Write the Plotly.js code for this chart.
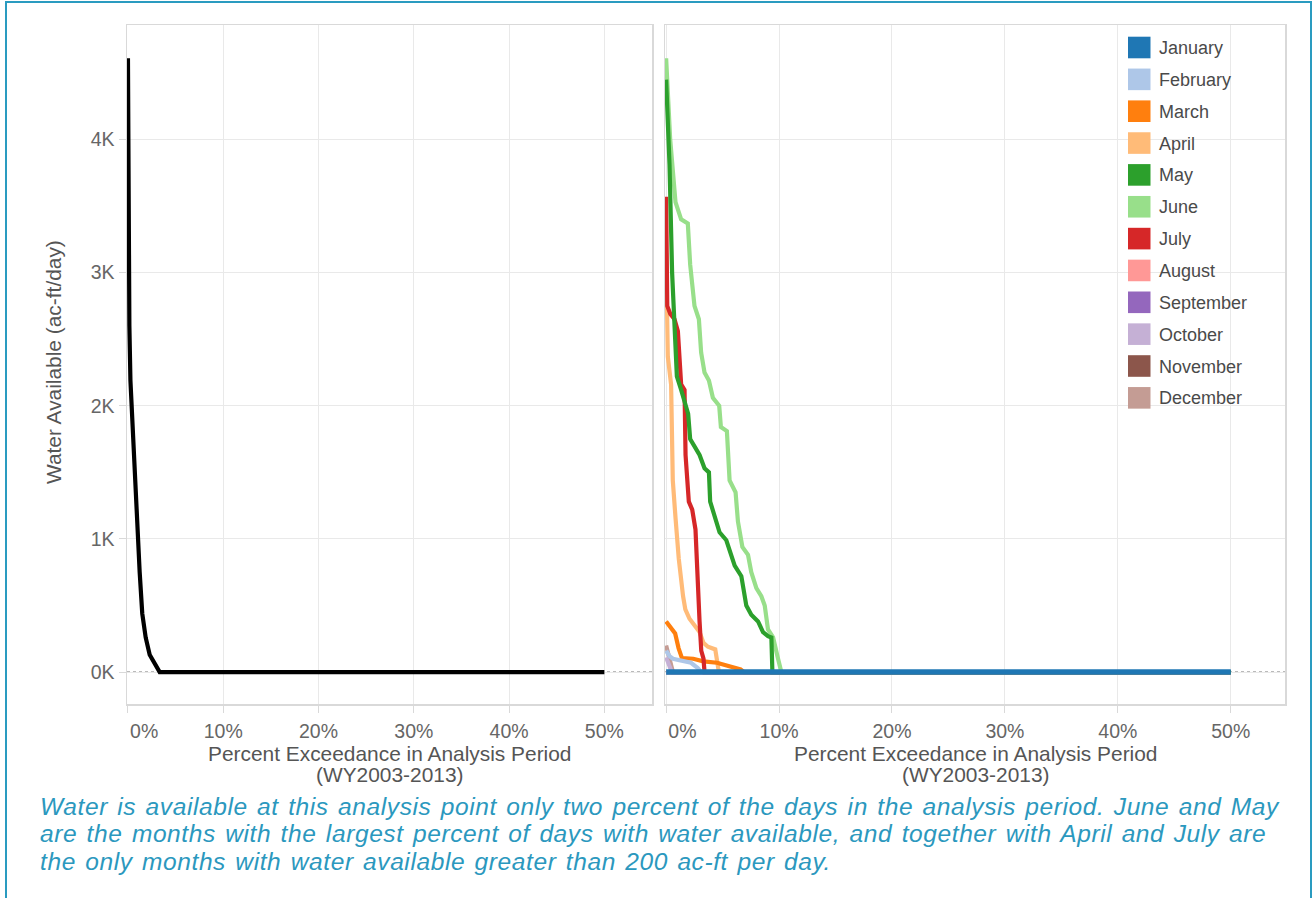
<!DOCTYPE html>
<html>
<head>
<meta charset="utf-8">
<script src="https://cdn.plot.ly/plotly-3.0.1.min.js"></script>
<style>
  html, body { margin: 0; padding: 0; background: #ffffff; }
  #wrap { position: relative; width: 1314px; height: 898px; overflow: hidden; }
  #chart { position: absolute; left: 0; top: 0; width: 1314px; height: 898px; }
  #frame { position: absolute; left: 5px; top: 1px; width: 1303px; height: 960px;
           border: 2px solid #2a9bc0; border-bottom: none; pointer-events: none; }
  #caption { position: absolute; left: 40px; top: 792.8px; width: 1270px; margin: 0;
             font-family: 'Liberation Sans', Arial, sans-serif; font-style: italic;
             font-size: 24.5px; line-height: 27.5px; letter-spacing: 0.6px; word-spacing: 2px;
             color: #2b98be; white-space: nowrap; }
</style>
</head>
<body>
<div id="wrap">
  <div id="chart"></div>
  <div id="caption"></div>
  <div id="frame"></div>
</div>
<script>
// ---------------- DATA ----------------
const months = ['January','February','March','April','May','June','July','August','September','October','November','December'];
const monthColors = ['#1f77b4','#aec7e8','#ff7f0e','#ffbb78','#2ca02c','#98df8a','#d62728','#ff9896','#9467bd','#c5b0d5','#8c564b','#c49c94'];

const xTickVals = [0, 10, 20, 30, 40, 50];
const xTickText = ['\u00a0\u00a0\u00a0\u00a0\u00a0\u00a00%', '10%', '20%', '30%', '40%', '50%'];
const yTickVals = [0, 1000, 2000, 3000, 4000];
const yTickText = ['0K', '1K', '2K', '3K', '4K'];

// all months combined (left panel)
const pctAll = [0, 0.07, 0.1, 0.15, 0.26, 0.5, 0.7, 0.97, 1.23, 1.5, 1.86, 2.28, 2.8, 3.33, 50];
const valAll = [4610, 3500, 2690, 2600, 2190, 1840, 1470, 1050, 750, 440, 260, 130, 70, 0, 0];

// by month (right panel)
const pctJan = [0, 50];                      const valJan = [0, 0];
const pctFeb = [0, 0.3, 0.6, 1.5, 2.2, 2.8, 3.1, 50];
const valFeb = [160, 120, 100, 80, 70, 30, 0, 0];
const pctMar = [0, 0.4, 0.8, 1.1, 1.4, 2.4, 3.3, 4.5, 5.7, 6.6, 6.9, 50];
const valMar = [380, 340, 290, 180, 105, 100, 80, 70, 45, 20, 0, 0];
const pctApr = [0, 0.15, 0.44, 0.59, 0.83, 1.12, 1.5, 1.7, 2.07, 2.66, 2.96, 3.3, 3.7, 4.35, 4.55, 4.67, 50];
const valApr = [3150, 2370, 2160, 1440, 1160, 850, 570, 470, 400, 340, 300, 220, 190, 170, 70, 0, 0];
const pctMay = [0, 0.3, 0.53, 0.74, 0.95, 1.33, 1.7, 1.95, 2.13, 2.51, 2.96, 3.4, 3.79, 3.9, 4.29, 4.73, 5.33, 5.77, 6.07, 6.66, 7.1, 7.54, 8.14, 8.58, 9.02, 9.32, 9.41, 50];
const valMay = [4450, 3810, 3000, 2560, 2220, 2120, 2000, 1940, 1750, 1690, 1630, 1530, 1500, 1280, 1160, 1050, 990, 880, 800, 720, 500, 430, 380, 300, 270, 260, 0, 0];
const pctJun = [0, 0.36, 0.83, 1.33, 1.92, 2.13, 2.51, 2.9, 3.1, 3.4, 3.79, 4.14, 4.7, 4.85, 5.38, 5.62, 6.15, 6.36, 6.75, 7.25, 7.54, 7.99, 8.43, 8.73, 9.02, 9.47, 9.91, 10.2, 50];
const valJun = [4610, 4000, 3530, 3400, 3370, 3060, 2750, 2650, 2400, 2250, 2190, 2060, 2000, 1840, 1810, 1440, 1350, 1130, 940, 880, 750, 630, 570, 500, 320, 260, 100, 0, 0];
const pctJul = [0, 0.05, 0.1, 0.37, 0.74, 1.04, 1.33, 1.63, 1.72, 2.01, 2.31, 2.6, 2.81, 2.96, 3.11, 3.31, 3.4, 50];
const valJul = [3570, 3200, 2750, 2690, 2650, 2560, 2160, 2120, 1630, 1280, 1220, 1070, 570, 380, 160, 100, 0, 0];
const pctAug = [0, 50];                      const valAug = [0, 0];
const pctSep = [0, 50];                      const valSep = [0, 0];
const pctOct = [0, 0.3, 0.5, 50];            const valOct = [110, 40, 0, 0];
const pctNov = [0, 50];                      const valNov = [0, 0];
const pctDec = [0, 0.3, 0.6, 50];            const valDec = [200, 100, 0, 0];

const monthPct = [pctJan, pctFeb, pctMar, pctApr, pctMay, pctJun, pctJul, pctAug, pctSep, pctOct, pctNov, pctDec];
const monthVal = [valJan, valFeb, valMar, valApr, valMay, valJun, valJul, valAug, valSep, valOct, valNov, valDec];
// drawing order (last = on top)
const drawOrder = [11, 10, 9, 8, 7, 5, 3, 2, 1, 6, 4, 0];

const captionLines = [
  'Water is available at this analysis point only two percent of the days in the analysis period. June and May',
  'are the months with the largest percent of days with water available, and together with April and July are',
  'the only months with water available greater than 200 ac-ft per day.'
];
const xTitle1 = 'Percent Exceedance in Analysis Period';
const xTitle2 = '(WY2003-2013)';
const yTitle = 'Water Available (ac-ft/day)';

// caption as one text block
const capEl = document.getElementById('caption');
captionLines.forEach((t, k) => {
  if (k > 0) capEl.appendChild(document.createElement('br'));
  capEl.appendChild(document.createTextNode(t));
});

// ---------------- LAYOUT HELPERS ----------------
const W = 1314, H = 898;
const px = v => v / W;
const py = v => 1 - v / H;
const FONT = 'Liberation Sans, Arial, sans-serif';
const GRID = '#e9e9e9';
const LINE = '#d9d9d9';

const traces = [];
traces.push({
  x: pctAll, y: valAll, xaxis: 'x', yaxis: 'y', type: 'scatter', mode: 'lines',
  line: { color: '#000000', width: 4.2 }, showlegend: false
});
drawOrder.forEach(i => {
  traces.push({
    x: monthPct[i], y: monthVal[i], xaxis: 'x2', yaxis: 'y2', type: 'scatter', mode: 'lines',
    name: months[i], line: { color: monthColors[i], width: i === 0 ? 5.5 : 4.2 },
    showlegend: false
  });
});

const axisCommon = {
  showgrid: true, gridcolor: GRID, gridwidth: 1,
  showline: true, linecolor: LINE, linewidth: 1.5, mirror: true,
  zeroline: false, ticks: 'outside', ticklen: 7, tickcolor: LINE, tickwidth: 1,
  tickfont: { family: FONT, size: 19.5, color: '#666666' }, fixedrange: true
};
const yDomain = [py(704), py(25)];

const annotations = [];
const shapes = [];

// axis titles
[389.5, 975].forEach(cx => {
  annotations.push({ xref: 'paper', yref: 'paper', x: px(cx), y: py(753), text: xTitle1, showarrow: false,
    xanchor: 'center', yanchor: 'middle', font: { family: FONT, size: 20.9, color: '#555555' } });
  annotations.push({ xref: 'paper', yref: 'paper', x: px(cx), y: py(774), text: xTitle2, showarrow: false,
    xanchor: 'center', yanchor: 'middle', font: { family: FONT, size: 20.9, color: '#555555' } });
});
annotations.push({ xref: 'paper', yref: 'paper', x: px(54), y: py(362), text: yTitle, textangle: -90,
  showarrow: false, xanchor: 'center', yanchor: 'middle', font: { family: FONT, size: 20.9, color: '#555555' } });

// legend (swatches + labels)
months.forEach((m, i) => {
  const cy = 47.5 + 31.85 * i;
  shapes.push({ type: 'rect', xref: 'paper', yref: 'paper', x0: px(1128), x1: px(1150.5),
    y0: py(cy + 10.8), y1: py(cy - 10.8), fillcolor: monthColors[i], line: { width: 0 }, layer: 'above' });
  annotations.push({ xref: 'paper', yref: 'paper', x: px(1157), y: py(cy + 0.5), text: m, showarrow: false,
    xanchor: 'left', yanchor: 'middle', font: { family: FONT, size: 18, color: '#4a4a4a' } });
});

// dotted zero reference lines
['x', 'x2'].forEach((xa, k) => {
  shapes.push({ type: 'line', xref: xa + ' domain', yref: k === 0 ? 'y' : 'y2', x0: 0, x1: 1, y0: 0, y1: 0,
    line: { color: '#777777', width: 1.3, dash: 'dot' }, layer: 'below' });
});

const layout = {
  width: W, height: H,
  margin: { l: 0, r: 0, t: 0, b: 0, pad: 0 },
  paper_bgcolor: '#ffffff', plot_bgcolor: '#ffffff',
  showlegend: false,
  xaxis: Object.assign({}, axisCommon, { domain: [px(127), px(652)], range: [-0.1, 55], anchor: 'y',
    tickvals: xTickVals, ticktext: xTickText, ticklabelstandoff: 2 }),
  yaxis: Object.assign({}, axisCommon, { domain: yDomain, range: [-240, 4860], anchor: 'x',
    tickvals: yTickVals, ticktext: yTickText, ticklabelstandoff: 0 }),
  xaxis2: Object.assign({}, axisCommon, { domain: [px(665), px(1285)], range: [-0.1, 54.8], anchor: 'y2',
    tickvals: xTickVals, ticktext: xTickText, ticklabelstandoff: 2 }),
  yaxis2: Object.assign({}, axisCommon, { domain: yDomain, matches: 'y', anchor: 'x2',
    tickvals: yTickVals, showticklabels: false, ticks: '' }),
  annotations: annotations,
  shapes: shapes,
  hovermode: 'closest'
};

Plotly.newPlot('chart', traces, layout, { displayModeBar: false, staticPlot: true });
</script>
</body>
</html>
